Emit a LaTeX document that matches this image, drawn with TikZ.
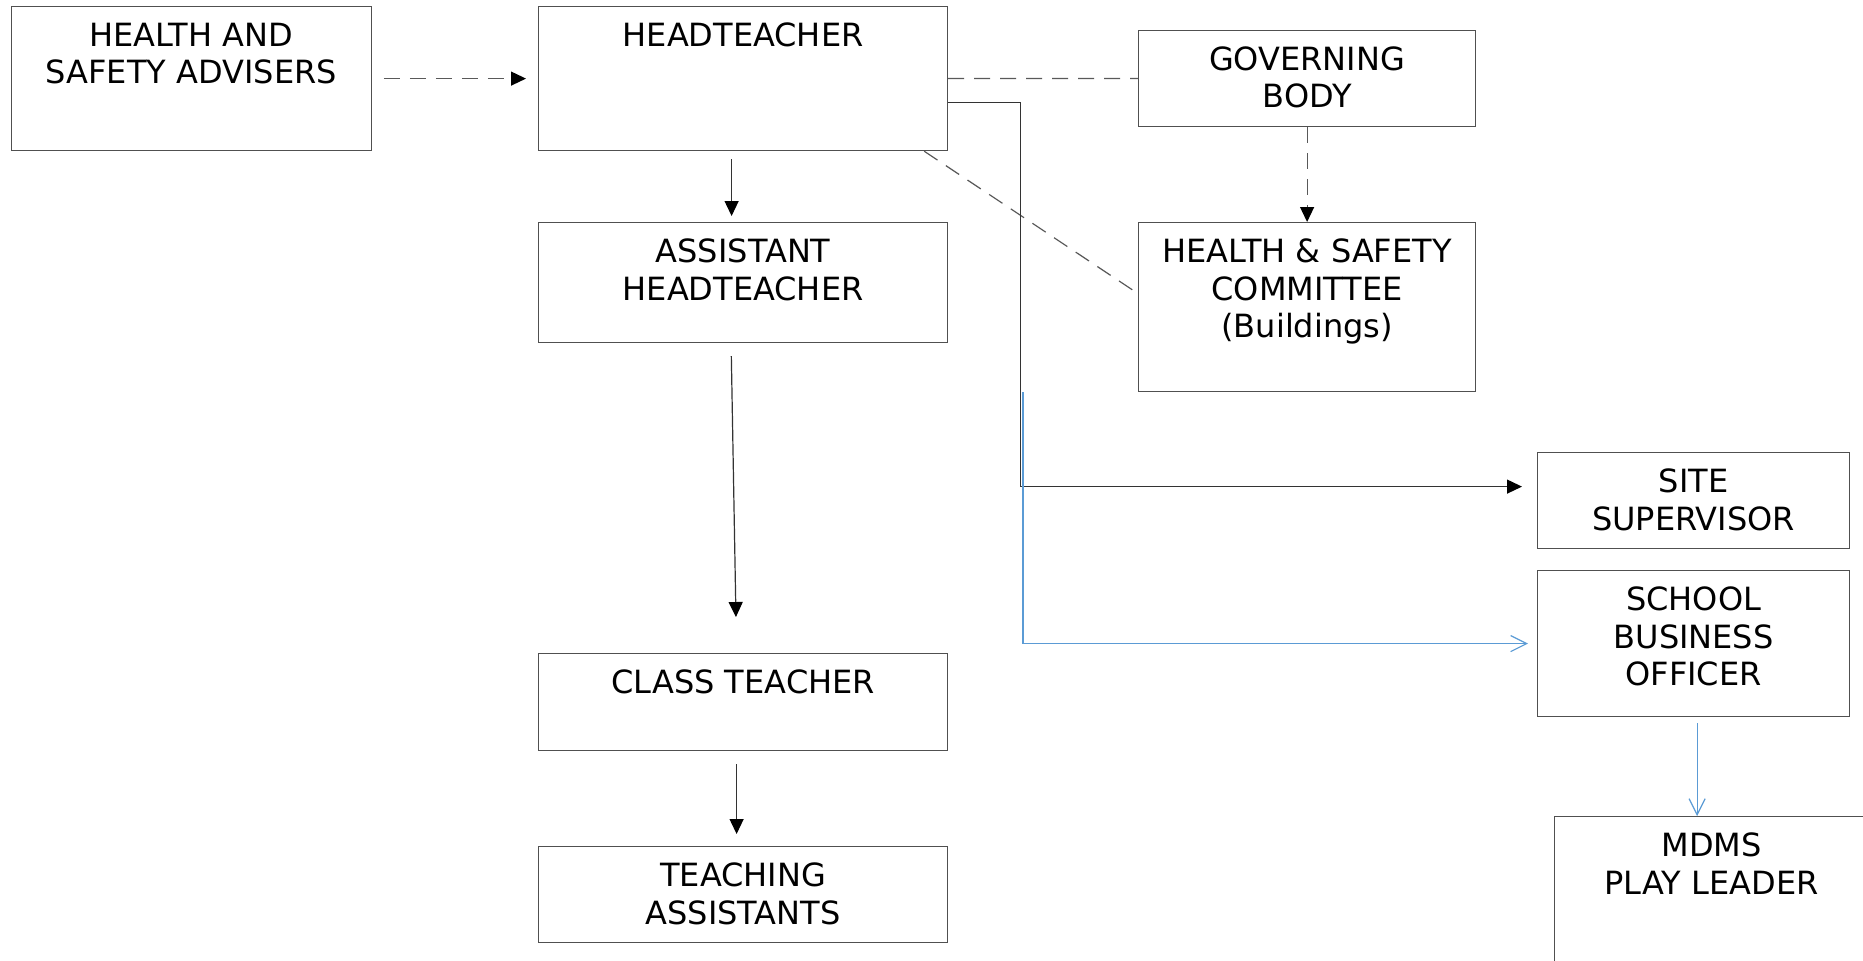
\documentclass[tikz,border=0pt]{standalone}
\usepackage{fontspec}
\setmainfont{DejaVu Sans}
\usetikzlibrary{arrows.meta, positioning, calc}
\definecolor{linkblue}{RGB}{91, 155, 213}
\definecolor{boxgrey}{RGB}{80, 80, 80}

\begin{document}
\begin{tikzpicture}[x=0.5pt, y=-0.5pt,
  pbox/.style={draw=boxgrey, line width=0.6pt, inner sep=0pt, anchor=north west},
  ptext/.style={anchor=north, align=center, inner sep=0pt, yshift=-8.2pt, font=\fontsize{16pt}{18.75pt}\selectfont},
  dashlink/.style={draw=black!65, line width=0.6pt, dash pattern=on 8pt off 5pt},
  solidlink/.style={draw=black!80, line width=0.6pt},
  tip/.style={-{Triangle[length=7.5pt, width=7pt, color=black]}},
  bluelink/.style={draw=linkblue, line width=0.6pt, -{Straight Barb[length=8pt, width=8pt]}}
]
  \path[use as bounding box, clip] (0,0) rectangle (1863,960);

  % boxes
  \node[pbox, minimum width=180pt, minimum height=72pt] (adv) at (10.7,6) {};
  \node[pbox, minimum width=204.5pt, minimum height=72pt] (head) at (538,6) {};
  \node[pbox, minimum width=168.5pt, minimum height=48.25pt] (gov) at (1138,29.5) {};
  \node[pbox, minimum width=204.5pt, minimum height=60pt] (asst) at (538,222) {};
  \node[pbox, minimum width=168.5pt, minimum height=84.5pt] (cttee) at (1138,222) {};
  \node[pbox, minimum width=156pt, minimum height=48pt] (site) at (1537,452) {};
  \node[pbox, minimum width=156pt, minimum height=73pt] (sbo) at (1537,570) {};
  \node[pbox, minimum width=204.5pt, minimum height=48.5pt] (cls) at (538,653) {};
  \node[pbox, minimum width=204.5pt, minimum height=48pt] (ta) at (538,846) {};
  \node[pbox, minimum width=157pt, minimum height=73pt] (mdms) at (1554,816) {};

  % texts
  \node[ptext] (advt) at (adv.north) {HEALTH AND\\SAFETY ADVISERS};
  \node[ptext] (headt) at (head.north) {HEADTEACHER};
  \node[ptext] (govt) at (gov.north) {GOVERNING\\BODY};
  \node[ptext] (asstt) at (asst.north) {ASSISTANT\\HEADTEACHER};
  \node[ptext] (ctteet) at (cttee.north) {HEALTH \& SAFETY\\COMMITTEE\\(Buildings)};
  \node[ptext] (sitet) at (site.north) {SITE\\SUPERVISOR};
  \node[ptext] (sbot) at (sbo.north) {SCHOOL\\BUSINESS\\OFFICER};
  \node[ptext] (clst) at (cls.north) {CLASS TEACHER};
  \node[ptext] (tat) at (ta.north) {TEACHING\\ASSISTANTS};
  \node[ptext] (mdmst) at (mdms.north) {MDMS\\PLAY LEADER};

  % connectors
  \draw[dashlink, tip, shorten <=6pt, shorten >=6pt] (adv) -- (head);
  \draw[dashlink] (head) -- (gov);
  \draw[dashlink] ([xshift=-12pt]head.south east) -- ([yshift=6.75pt]cttee.west);
  \draw[dashlink, tip] (gov) -- (cttee);
  \draw[solidlink, tip] ([yshift=-12pt]head.east) -- ++(72,0) |- ([xshift=-7.5pt, yshift=7pt]site.west);
  \draw[solidlink, tip, shorten <=4pt, shorten >=3pt] ([xshift=-5.75pt]head.south) -- ([xshift=-5.75pt]asst.north);
  \draw[solidlink, tip, shorten <=6.5pt, shorten >=18pt] ([xshift=-6pt]asst.south) -- ([xshift=-3.25pt]cls.north);
  \draw[solidlink, tip, shorten <=6.5pt, shorten >=6pt] ([xshift=-3.25pt]cls.south) -- ([xshift=-3.25pt]ta.north);
  \draw[bluelink, shorten >=4.5pt] ([xshift=-57.5pt]cttee.south west) |- (sbo.west);
  \draw[bluelink, shorten <=3pt] ([xshift=1.75pt]sbo.south) -- ($(sbo.south |- mdms.north)+(3.5,0)$);
\end{tikzpicture}
\end{document}
